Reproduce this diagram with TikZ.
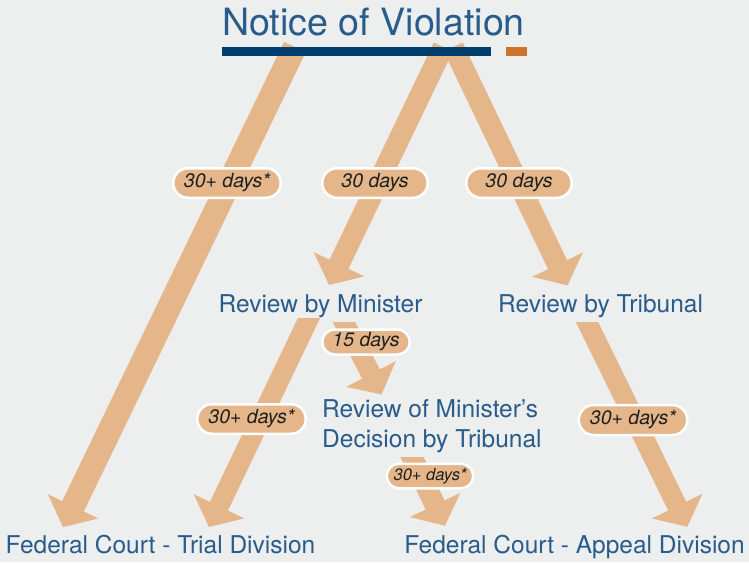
\documentclass[tikz,border=0pt]{standalone}
\usepackage{fontspec}
\setmainfont{TeX Gyre Heros}
\usetikzlibrary{calc,shapes.misc}
\definecolor{bgcol}{RGB}{237,238,238}
\definecolor{arrowfill}{RGB}{228,182,138}
\definecolor{bluebar}{RGB}{0,63,110}
\definecolor{orangebar}{RGB}{206,116,42}
\definecolor{txtblue}{RGB}{40,92,140}
\definecolor{txtdark}{RGB}{30,30,30}
% #1 start, #2 tip, #3 half shaft width, #4 clip top y
\newcommand\fatarrow[4]{%
  \begin{scope}
    \clip (0,#4) rectangle (749,562);
    \coordinate (#1#2b) at ($(#2)!23pt!(#1)$);
    \fill[arrowfill] ($(#1)!#3!90:(#2)$) -- ($(#1#2b)!#3!90:(#2)$)
      -- ($(#1#2b)!28pt!90:(#2)$) -- (#2) -- ($(#1#2b)!28pt!-90:(#2)$)
      -- ($(#1#2b)!#3!-90:(#2)$) -- ($(#1)!#3!-90:(#2)$) -- cycle;
  \end{scope}}
\begin{document}
\begin{tikzpicture}[x=1pt,y=-1pt,
  lbl/.style={text=txtblue,font=\fontsize{24.5}{28}\selectfont,inner sep=0pt,anchor=base},
  pill/.style={rounded rectangle,fill=arrowfill,draw=white,line width=2.5pt,inner sep=0pt,
    text=txtdark,font=\itshape\fontsize{19.5}{22}\selectfont}]
\useasboundingbox (0,0) rectangle (749,562);
\fill[bgcol] (0,0) rectangle (749,562);

% arrow end points
\coordinate (a1s) at (294.9,47);   \coordinate (a1t) at (63,527);
\coordinate (a2s) at (443.3,47);   \coordinate (a2t) at (329,285);
\coordinate (a3s) at (453.2,47);   \coordinate (a3t) at (567.5,285.4);
\coordinate (a4s) at (315.5,304.5); \coordinate (a4t) at (209,527);
\coordinate (a5s) at (337,308.7);  \coordinate (a5t) at (381.6,394.4);
\coordinate (a6s) at (580.4,308.5); \coordinate (a6t) at (687.3,526.8);
\coordinate (a7s) at (405.5,443.5); \coordinate (a7t) at (445,525.7);

\fatarrow{a1s}{a1t}{12pt}{0}
\fatarrow{a2s}{a2t}{10.5pt}{0}
\fatarrow{a3s}{a3t}{10.5pt}{0}
\fatarrow{a4s}{a4t}{10pt}{318}
\fatarrow{a5s}{a5t}{10pt}{322}
\fatarrow{a6s}{a6t}{10pt}{322}
\fatarrow{a7s}{a7t}{10.5pt}{457}

% title
\node[text=txtblue,font=\fontsize{37.6}{40}\selectfont,inner sep=0pt,anchor=base] (nov) at (373.5,35) {Notice of Violation};
\fill[bluebar] (222,47.3) rectangle (491,55.8);
\fill[orangebar] (506,47.3) rectangle (527,55.8);

% labels
\node[lbl] (rbm) at (320.5,312) {Review by Minister};
\node[lbl] (rbt) at (600.5,312) {Review by Tribunal};
\node[lbl,anchor=base west] (rmd1) at (322,417) {Review of Minister's};
\node[lbl,anchor=base west] (rmd2) at (322,447) {Decision by Tribunal};
\node[lbl] (ftd) at (160.5,553) {Federal Court - Trial Division};
\node[lbl] (fad) at (574.5,553) {Federal Court - Appeal Division};

% pills
\node[pill,minimum width=107.5pt,minimum height=29.5pt] (p1) at (227,183) {30+ days*};
\node[pill,minimum width=105.5pt,minimum height=29.5pt] (p2) at (375,183) {30 days};
\node[pill,minimum width=105.5pt,minimum height=29.5pt] (p3) at (519,183) {30 days};
\node[pill,minimum width=87.5pt,minimum height=25pt] (p4) at (366,342) {15 days};
\node[pill,minimum width=108.5pt,minimum height=29.5pt] (p5) at (251.5,419) {30+ days*};
\node[pill,minimum width=108.5pt,minimum height=30pt] (p6) at (633,420) {30+ days*};
\node[pill,minimum width=86.5pt,minimum height=24.5pt,font=\itshape\fontsize{16.5}{19}\selectfont] (p7) at (430,476) {30+ days*};
\end{tikzpicture}
\end{document}
